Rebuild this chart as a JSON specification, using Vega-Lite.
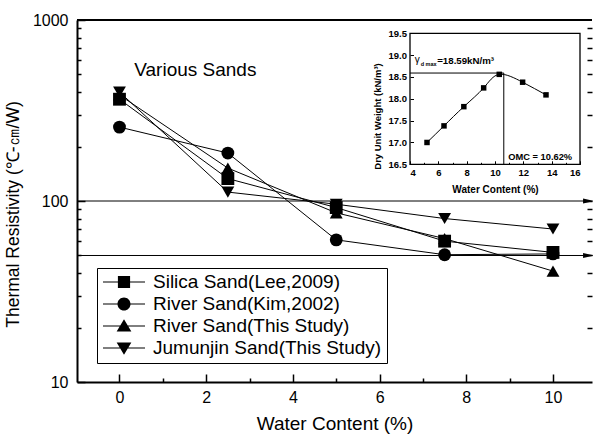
{
  "$schema": "https://vega.github.io/schema/vega-lite/v6.json",
  "width": 515,
  "height": 362,
  "autosize": {"type": "none"},
  "padding": {"left": 77, "top": 20, "right": 1, "bottom": 53},
  "background": "white",
  "config": {
    "view": {"stroke": null},
    "font": "Liberation Sans",
    "axis": {"grid": false, "domainColor": "black", "tickColor": "black", "labelColor": "black", "titleColor": "black"}
  },
  "datasets": {
    "sands": [
      {"series": "Silica Sand(Lee,2009)", "w": 0, "r": 365},
      {"series": "Silica Sand(Lee,2009)", "w": 2.5, "r": 133},
      {"series": "Silica Sand(Lee,2009)", "w": 5, "r": 92},
      {"series": "Silica Sand(Lee,2009)", "w": 7.5, "r": 60},
      {"series": "Silica Sand(Lee,2009)", "w": 10, "r": 52},
      {"series": "River Sand(Kim,2002)", "w": 0, "r": 256},
      {"series": "River Sand(Kim,2002)", "w": 2.5, "r": 184},
      {"series": "River Sand(Kim,2002)", "w": 5, "r": 61},
      {"series": "River Sand(Kim,2002)", "w": 7.5, "r": 50.5},
      {"series": "River Sand(Kim,2002)", "w": 10, "r": 51},
      {"series": "River Sand(This Study)", "w": 0, "r": 385},
      {"series": "River Sand(This Study)", "w": 2.5, "r": 152},
      {"series": "River Sand(This Study)", "w": 5, "r": 86},
      {"series": "River Sand(This Study)", "w": 7.5, "r": 62},
      {"series": "River Sand(This Study)", "w": 10, "r": 41},
      {"series": "Jumunjin Sand(This Study)", "w": 0, "r": 400},
      {"series": "Jumunjin Sand(This Study)", "w": 2.5, "r": 112},
      {"series": "Jumunjin Sand(This Study)", "w": 5, "r": 96},
      {"series": "Jumunjin Sand(This Study)", "w": 7.5, "r": 80},
      {"series": "Jumunjin Sand(This Study)", "w": 10, "r": 70}
    ],
    "inset": [
      {"wc": 5.2, "gd": 17.0},
      {"wc": 6.4, "gd": 17.38},
      {"wc": 7.8, "gd": 17.82},
      {"wc": 9.2, "gd": 18.25},
      {"wc": 10.3, "gd": 18.56},
      {"wc": 11.95, "gd": 18.38},
      {"wc": 13.6, "gd": 18.09}
    ],
    "one": [{"k": 1}]
  },
  "layer": [
    {
      "layer": [
        {
          "data": {"name": "one"},
          "mark": {"type": "rule", "color": "black", "strokeWidth": 2},
          "encoding": {
            "x": {"datum": -0.98, "type": "quantitative", "scale": {"domain": [-0.98, 10.9], "nice": false, "zero": false}},
            "x2": {"datum": 10.9},
            "y": {"datum": 1000, "type": "quantitative", "scale": {"type": "log", "domain": [10, 1000], "nice": false}}
          }
        },
        {
          "data": {"values": [{"lv": 100}, {"lv": 50}]},
          "mark": {"type": "rule", "color": "black", "strokeWidth": 1},
          "encoding": {
            "x": {"datum": -0.98, "type": "quantitative"},
            "x2": {"datum": 10.82},
            "y": {"field": "lv", "type": "quantitative"}
          }
        },
        {
          "data": {"values": [{"lv": 100}, {"lv": 50}]},
          "mark": {"type": "point", "filled": true, "color": "black", "opacity": 1, "size": 121, "shape": "M-1,-0.45L1,0L-1,0.45Z"},
          "encoding": {
            "x": {"datum": 10.82, "type": "quantitative"},
            "y": {"field": "lv", "type": "quantitative"}
          }
        },
        {
          "data": {"name": "sands"},
          "mark": {"type": "line", "color": "black", "strokeWidth": 1},
          "encoding": {
            "x": {"field": "w", "type": "quantitative", "axis": {
              "orient": "bottom",
              "values": [0, 1, 2, 3, 4, 5, 6, 7, 8, 9, 10],
              "labelExpr": "datum.value % 2 == 0 ? datum.label : ''",
              "tickSize": {"condition": {"test": "datum.value % 2 == 1", "value": -4}, "value": -8},
              "tickWidth": 1.5,
              "domainWidth": 2,
              "labelFontSize": 16,
              "labelPadding": 15,
              "title": "Water Content (%)",
              "titleFontSize": 19,
              "titleFontWeight": "normal",
              "titlePadding": 9
            }},
            "y": {"field": "r", "type": "quantitative", "axis": {
              "orient": "left",
              "values": [10, 20, 30, 40, 50, 60, 70, 80, 90, 100, 200, 300, 400, 500, 600, 700, 800, 900, 1000],
              "labelExpr": "datum.value == 10 ? '10' : datum.value == 100 ? '100' : datum.value == 1000 ? '1000' : ''",
              "tickSize": {"condition": {"test": "datum.value == 10 || datum.value == 100 || datum.value == 1000", "value": -8}, "value": -4},
              "tickWidth": 1.5,
              "domainWidth": 2,
              "labelFontSize": 16,
              "labelPadding": 17,
              "title": "Thermal Resistivity (℃-㎝/W)",
              "titleFontSize": 17.5,
              "titleFontWeight": "normal",
              "titleX": -55,
              "titleY": 194
            }},
            "detail": {"field": "series"}
          }
        },
        {
          "data": {"name": "sands"},
          "mark": {"type": "point", "filled": true, "color": "black", "opacity": 1, "size": 165},
          "encoding": {
            "x": {"field": "w", "type": "quantitative"},
            "y": {"field": "r", "type": "quantitative"},
            "shape": {"field": "series", "type": "nominal", "legend": null,
              "scale": {"domain": ["Silica Sand(Lee,2009)", "River Sand(Kim,2002)", "River Sand(This Study)", "Jumunjin Sand(This Study)"],
                        "range": ["square", "circle", "triangle-up", "triangle-down"]}}
          }
        },
        {
          "data": {"name": "sands"},
          "mark": {"type": "point", "filled": true, "color": "black", "opacity": 0, "size": 1764},
          "encoding": {
            "x": {"field": "w", "type": "quantitative"},
            "y": {"field": "r", "type": "quantitative"},
            "shape": {"field": "series", "type": "nominal",
              "scale": {"domain": ["Silica Sand(Lee,2009)", "River Sand(Kim,2002)", "River Sand(This Study)", "Jumunjin Sand(This Study)"],
                        "range": [
                          "M-1,-0.025H1V0.025H-1ZM-0.29,-0.29H0.29V0.29H-0.29Z",
                          "M-1,-0.025H1V0.025H-1ZM-0.31,0A0.31,0.31,0,1,1,0.31,0A0.31,0.31,0,1,1,-0.31,0Z",
                          "M-1,-0.025H1V0.025H-1ZM0,-0.32L0.35,0.26L-0.35,0.26Z",
                          "M-1,-0.025H1V0.025H-1ZM0,0.32L-0.35,-0.26L0.35,-0.26Z"
                        ]},
              "legend": {
                "title": null,
                "orient": "none",
                "legendX": 20,
                "legendY": 248,
                "strokeColor": "black",
                "padding": 5,
                "symbolSize": 1764,
                "symbolOpacity": 1,
                "symbolFillColor": "black",
                "clipHeight": 18,
                "labelOffset": 7,
                "labelFontSize": 19,
                "labelFont": "Liberation Sans",
                "labelColor": "black",
                "labelLimit": 400,
                "rowPadding": 3
              }}
          }
        },
        {
          "data": {"name": "one"},
          "mark": {"type": "text", "fontSize": 19, "align": "center", "baseline": "middle", "color": "black"},
          "encoding": {
            "x": {"datum": 1.75, "type": "quantitative"},
            "y": {"datum": 530, "type": "quantitative"},
            "text": {"value": "Various Sands"}
          }
        }
      ],
      "resolve": {"scale": {"shape": "independent"}}
    },
    {
      "data": {"name": "one"},
      "mark": {"type": "rule", "strokeOpacity": 0},
      "encoding": {
        "x": {"datum": 0, "type": "quantitative", "scale": {"domain": [-0.98, 10.9], "nice": false, "zero": false}, "axis": null},
        "y": {"datum": 100, "type": "quantitative",
          "scale": {"type": "log", "domain": [10, 1000], "nice": false},
          "axis": {
            "orient": "right",
            "domain": false,
            "labels": false,
            "title": null,
            "values": [20, 30, 40, 50, 60, 70, 80, 90, 100, 200, 300, 400, 500, 600, 700, 800, 900],
            "tickSize": {"condition": {"test": "datum.value == 100", "value": -8}, "value": -5},
            "tickWidth": 1.5
          }}
      }
    },
    {
      "layer": [
        {
          "data": {"name": "one"},
          "mark": {"type": "rect", "fillOpacity": 0, "fill": "white", "stroke": "black", "strokeWidth": 1.3},
          "encoding": {
            "x": {"datum": 4, "type": "quantitative",
              "scale": {"domain": [4, 16], "range": [333, 503], "nice": false, "zero": false},
              "axis": {
                "orient": "bottom",
                "offset": -217.7,
                "domain": false,
                "values": [4, 5, 6, 7, 8, 9, 10, 11, 12, 13, 14, 15, 16],
                "labelExpr": "datum.value % 2 == 0 ? datum.label : ''",
                "tickSize": {"condition": {"test": "datum.value % 2 == 1", "value": -2}, "value": -3.5},
                "labelFontSize": 9.5,
                "labelFontWeight": "bold",
                "labelPadding": 7,
                "title": "Water Content (%)",
                "titleFontSize": 10,
                "titleFontWeight": "bold",
                "titlePadding": 7
              }},
            "x2": {"datum": 16},
            "y": {"datum": 16.5, "type": "quantitative",
              "scale": {"domain": [16.5, 19.5], "range": [144.3, 13.3], "nice": false, "zero": false},
              "axis": {
                "orient": "left",
                "offset": -333,
                "domain": false,
                "values": [16.5, 17, 17.5, 18, 18.5, 19, 19.5],
                "format": ".1f",
                "tickSize": -3.5,
                "labelFontSize": 9.5,
                "labelFontWeight": "bold",
                "labelPadding": 7,
                "title": "Dry Unit Weight (kN/m³)",
                "titleFontSize": 9.5,
                "titleFontWeight": "bold",
                "titleX": -28,
                "titleY": 96
              }},
            "y2": {"datum": 19.5}
          }
        },
        {
          "data": {"name": "one"},
          "mark": {"type": "rule", "color": "black", "strokeWidth": 1},
          "encoding": {
            "x": {"datum": 4, "type": "quantitative"},
            "x2": {"datum": 10.62},
            "y": {"datum": 18.59, "type": "quantitative"}
          }
        },
        {
          "data": {"name": "one"},
          "mark": {"type": "rule", "color": "black", "strokeWidth": 1},
          "encoding": {
            "x": {"datum": 10.62, "type": "quantitative"},
            "y": {"datum": 16.5, "type": "quantitative"},
            "y2": {"datum": 18.59}
          }
        },
        {
          "data": {"name": "inset"},
          "mark": {"type": "line", "color": "black", "strokeWidth": 1, "interpolate": "natural"},
          "encoding": {
            "x": {"field": "wc", "type": "quantitative"},
            "y": {"field": "gd", "type": "quantitative"}
          }
        },
        {
          "data": {"name": "inset"},
          "mark": {"type": "point", "shape": "square", "filled": true, "color": "black", "opacity": 1, "size": 30},
          "encoding": {
            "x": {"field": "wc", "type": "quantitative"},
            "y": {"field": "gd", "type": "quantitative"}
          }
        },
        {
          "data": {"name": "one"},
          "mark": {"type": "text", "fontSize": 10, "align": "left", "baseline": "alphabetic", "color": "black"},
          "encoding": {
            "x": {"datum": 4.33, "type": "quantitative"},
            "y": {"datum": 18.82, "type": "quantitative"},
            "text": {"value": "γ"}
          }
        },
        {
          "data": {"name": "one"},
          "mark": {"type": "text", "fontSize": 5.5, "align": "left", "baseline": "alphabetic", "color": "black", "fontWeight": "bold"},
          "encoding": {
            "x": {"datum": 4.75, "type": "quantitative"},
            "y": {"datum": 18.75, "type": "quantitative"},
            "text": {"value": "d max"}
          }
        },
        {
          "data": {"name": "one"},
          "mark": {"type": "text", "fontSize": 9.7, "align": "left", "baseline": "alphabetic", "color": "black", "fontWeight": "bold"},
          "encoding": {
            "x": {"datum": 5.92, "type": "quantitative"},
            "y": {"datum": 18.79, "type": "quantitative"},
            "text": {"value": "=18.59kN/m³"}
          }
        },
        {
          "data": {"name": "one"},
          "mark": {"type": "text", "fontSize": 9.3, "align": "left", "baseline": "alphabetic", "color": "black", "fontWeight": "bold"},
          "encoding": {
            "x": {"datum": 10.94, "type": "quantitative"},
            "y": {"datum": 16.6, "type": "quantitative"},
            "text": {"value": "OMC = 10.62%"}
          }
        }
      ]
    }
  ],
  "resolve": {"scale": {"x": "independent", "y": "independent"}, "axis": {"x": "independent", "y": "independent"}}
}
